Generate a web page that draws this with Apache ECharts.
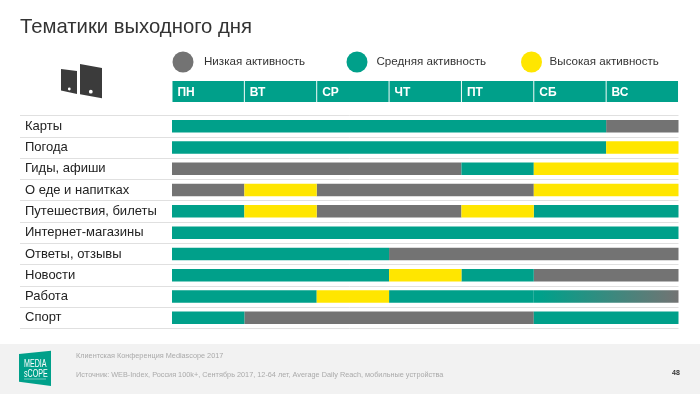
<!DOCTYPE html>
<html>
<head>
<meta charset="utf-8">
<title>Тематики выходного дня</title>
<script src="https://cdn.jsdelivr.net/npm/echarts@6/dist/echarts.min.js"></script>
<style>
    html, body { margin: 0; padding: 0; background: #fff; }
    #chart { width: 700px; height: 394px; }
</style>
</head>
<body>
<div id="chart"></div>
<script>
var days = ['ПН', 'ВТ', 'СР', 'ЧТ', 'ПТ', 'СБ', 'ВС'];
var topics = ['Карты', 'Погода', 'Гиды, афиши', 'О еде и напитках', 'Путешествия, билеты',
    'Интернет-магазины', 'Ответы, отзывы', 'Новости', 'Работа', 'Спорт'];
var levelNames = ['Низкая активность', 'Средняя активность', 'Высокая активность'];

// 0 low, 1 medium, 2 high, 3 medium fading into low (Работа, weekend)
var activity = [
    [1, 1, 1, 1, 1, 1, 0],
    [1, 1, 1, 1, 1, 1, 2],
    [0, 0, 0, 0, 1, 2, 2],
    [0, 2, 0, 0, 0, 2, 2],
    [1, 2, 0, 0, 2, 1, 1],
    [1, 1, 1, 1, 1, 1, 1],
    [1, 1, 1, 0, 0, 0, 0],
    [1, 1, 1, 2, 1, 0, 0],
    [1, 1, 2, 1, 1, 3, 3],
    [1, 0, 0, 0, 0, 1, 1]
];

var GRAY = '#737373', GREEN = '#00A08A', YELLOW = '#FFE600';
var fadeColor = new echarts.graphic.LinearGradient(0, 0, 1, 0, [
    { offset: 0, color: GREEN },
    { offset: 0.05, color: GREEN },
    { offset: 1, color: GRAY }
]);

// joins neighbouring days of one level into [fromDay, toDay, row]
function spans(level) {
    var out = [];
    activity.forEach(function (row, r) {
        var d = 0;
        while (d < row.length) {
            if (row[d] === level) {
                var start = d;
                while (d < row.length && row[d] === level) d++;
                out.push([start, d, r]);
            } else {
                d++;
            }
        }
    });
    return out;
}

function renderSpan(params, api) {
    var a = api.coord([api.value(0), api.value(2)]);
    var b = api.coord([api.value(1), api.value(2)]);
    var h = 12.5;
    return {
        type: 'rect',
        shape: { x: a[0], y: a[1] - h / 2, width: b[0] - a[0], height: h },
        style: api.style()
    };
}

function spanSeries(name, level, color) {
    return {
        name: name,
        type: 'custom',
        xAxisIndex: 0,
        yAxisIndex: 0,
        renderItem: renderSpan,
        encode: { x: [0, 1], y: 2 },
        itemStyle: { color: color },
        silent: true,
        data: spans(level)
    };
}

function legendAt(name, left, textGap) {
    return {
        data: [name],
        left: left,
        top: 51.5,
        padding: 0,
        icon: 'circle',
        itemWidth: 21,
        itemHeight: 21,
        itemGap: 0,
        selectedMode: false,
        textStyle: { fontFamily: 'Liberation Sans', fontSize: 11.6, color: '#333', padding: [3, 0, 0, textGap] }
    };
}

var chart = echarts.init(document.getElementById('chart'));

var option = {
    animation: false,
    backgroundColor: '#fff',
    title: {
        text: 'Тематики выходного дня',
        left: 20,
        top: 17,
        padding: 0,
        textStyle: { fontFamily: 'Liberation Sans', fontSize: 20.3, fontWeight: 'normal', color: '#333' }
    },
    legend: [
        legendAt(levelNames[0], 172.5, 5.5),
        legendAt(levelNames[1], 346.5, 4),
        legendAt(levelNames[2], 521, 2.6)
    ],
    grid: [
        { left: 172, right: 21.5, top: 115.5, height: 213 },   // bars
        { left: 20, right: 21.5, top: 115.5, height: 213 },    // row lines and names
        { left: 172, right: 21.5, top: 81, height: 21 }        // day header
    ],
    xAxis: [
        { gridIndex: 0, type: 'value', min: 0, max: 7, show: false },
        { gridIndex: 1, type: 'value', min: 0, max: 1, show: false },
        {
            gridIndex: 2,
            type: 'category',
            data: days,
            axisLine: { show: false },
            axisTick: { show: false },
            axisLabel: { show: false }
        }
    ],
    yAxis: [
        { gridIndex: 0, type: 'category', data: topics, inverse: true, show: false },
        {
            gridIndex: 1,
            type: 'category',
            data: topics,
            inverse: true,
            axisLine: { show: false },
            axisTick: { show: false },
            splitLine: { show: true, lineStyle: { color: '#e0e0e0', width: 1 } },
            axisLabel: {
                inside: true,
                margin: 5,
                padding: [4, 0, 0, 0],
                fontFamily: 'Liberation Sans',
                fontSize: 13,
                color: '#222'
            }
        },
        { gridIndex: 2, type: 'value', min: 0, max: 1, show: false }
    ],
    series: [
        spanSeries(levelNames[0], 0, GRAY),
        spanSeries(levelNames[1], 1, GREEN),
        spanSeries(levelNames[2], 2, YELLOW),
        spanSeries('Средняя, переход в низкую', 3, fadeColor),
        {
            type: 'bar',
            xAxisIndex: 2,
            yAxisIndex: 2,
            barWidth: 71.4,
            silent: true,
            itemStyle: { color: GREEN },
            label: {
                show: true,
                position: 'insideLeft',
                distance: 5,
                offset: [0, 1],
                formatter: '{b}',
                fontFamily: 'Liberation Sans',
                fontSize: 12,
                fontWeight: 'bold',
                color: '#fff'
            },
            data: days.map(function () { return 1; })
        }
    ],
    graphic: [
        // footer band
        { type: 'rect', z: -1, shape: { x: 0, y: 344, width: 700, height: 50 }, style: { fill: '#F2F2F2' } },
        { type: 'text', left: 76, top: 352.5, style: { text: 'Клиентская Конференция Mediascope 2017', font: '7.3px "Liberation Sans"', fill: '#aaa' } },
        { type: 'text', left: 76, top: 371.5, style: { text: 'Источник: WEB-Index, Россия 100k+, Сентябрь 2017, 12-64 лет, Average Daily Reach, мобильные устройства', font: '7.3px "Liberation Sans"', fill: '#aaa' } },
        { type: 'text', left: 672, top: 369.5, style: { text: '48', font: 'bold 7px "Liberation Sans"', fill: '#333' } },
        // logo
        { type: 'polygon', shape: { points: [[19, 354], [51, 350.7], [51, 386], [19, 381.7]] }, style: { fill: GREEN } },
        { type: 'text', x: 24, y: 357.5, scaleX: 0.62, style: { text: 'MEDIA', font: '11.5px "Liberation Sans"', fill: '#fff' } },
        { type: 'text', x: 24, y: 367.5, scaleX: 0.62, style: { text: 'sCOPE', font: '11.5px "Liberation Sans"', fill: '#fff' } },
        { type: 'rect', shape: { x: 24, y: 378.5, width: 22, height: 1 }, style: { fill: 'rgba(255,255,255,0.45)' } },
        // phone and tablet icon
        { type: 'polygon', shape: { points: [[61, 69], [77, 71], [77, 94], [61, 90.5]] }, style: { fill: '#3b3b3b' } },
        { type: 'polygon', shape: { points: [[80, 64], [102, 68], [102, 98.3], [80, 94.3]] }, style: { fill: '#3b3b3b' } },
        { type: 'circle', shape: { cx: 69.3, cy: 89, r: 1.4 }, style: { fill: '#fff' } },
        { type: 'circle', shape: { cx: 90.8, cy: 91.7, r: 1.9 }, style: { fill: '#fff' } }
    ]
};

chart.setOption(option);
</script>
</body>
</html>
